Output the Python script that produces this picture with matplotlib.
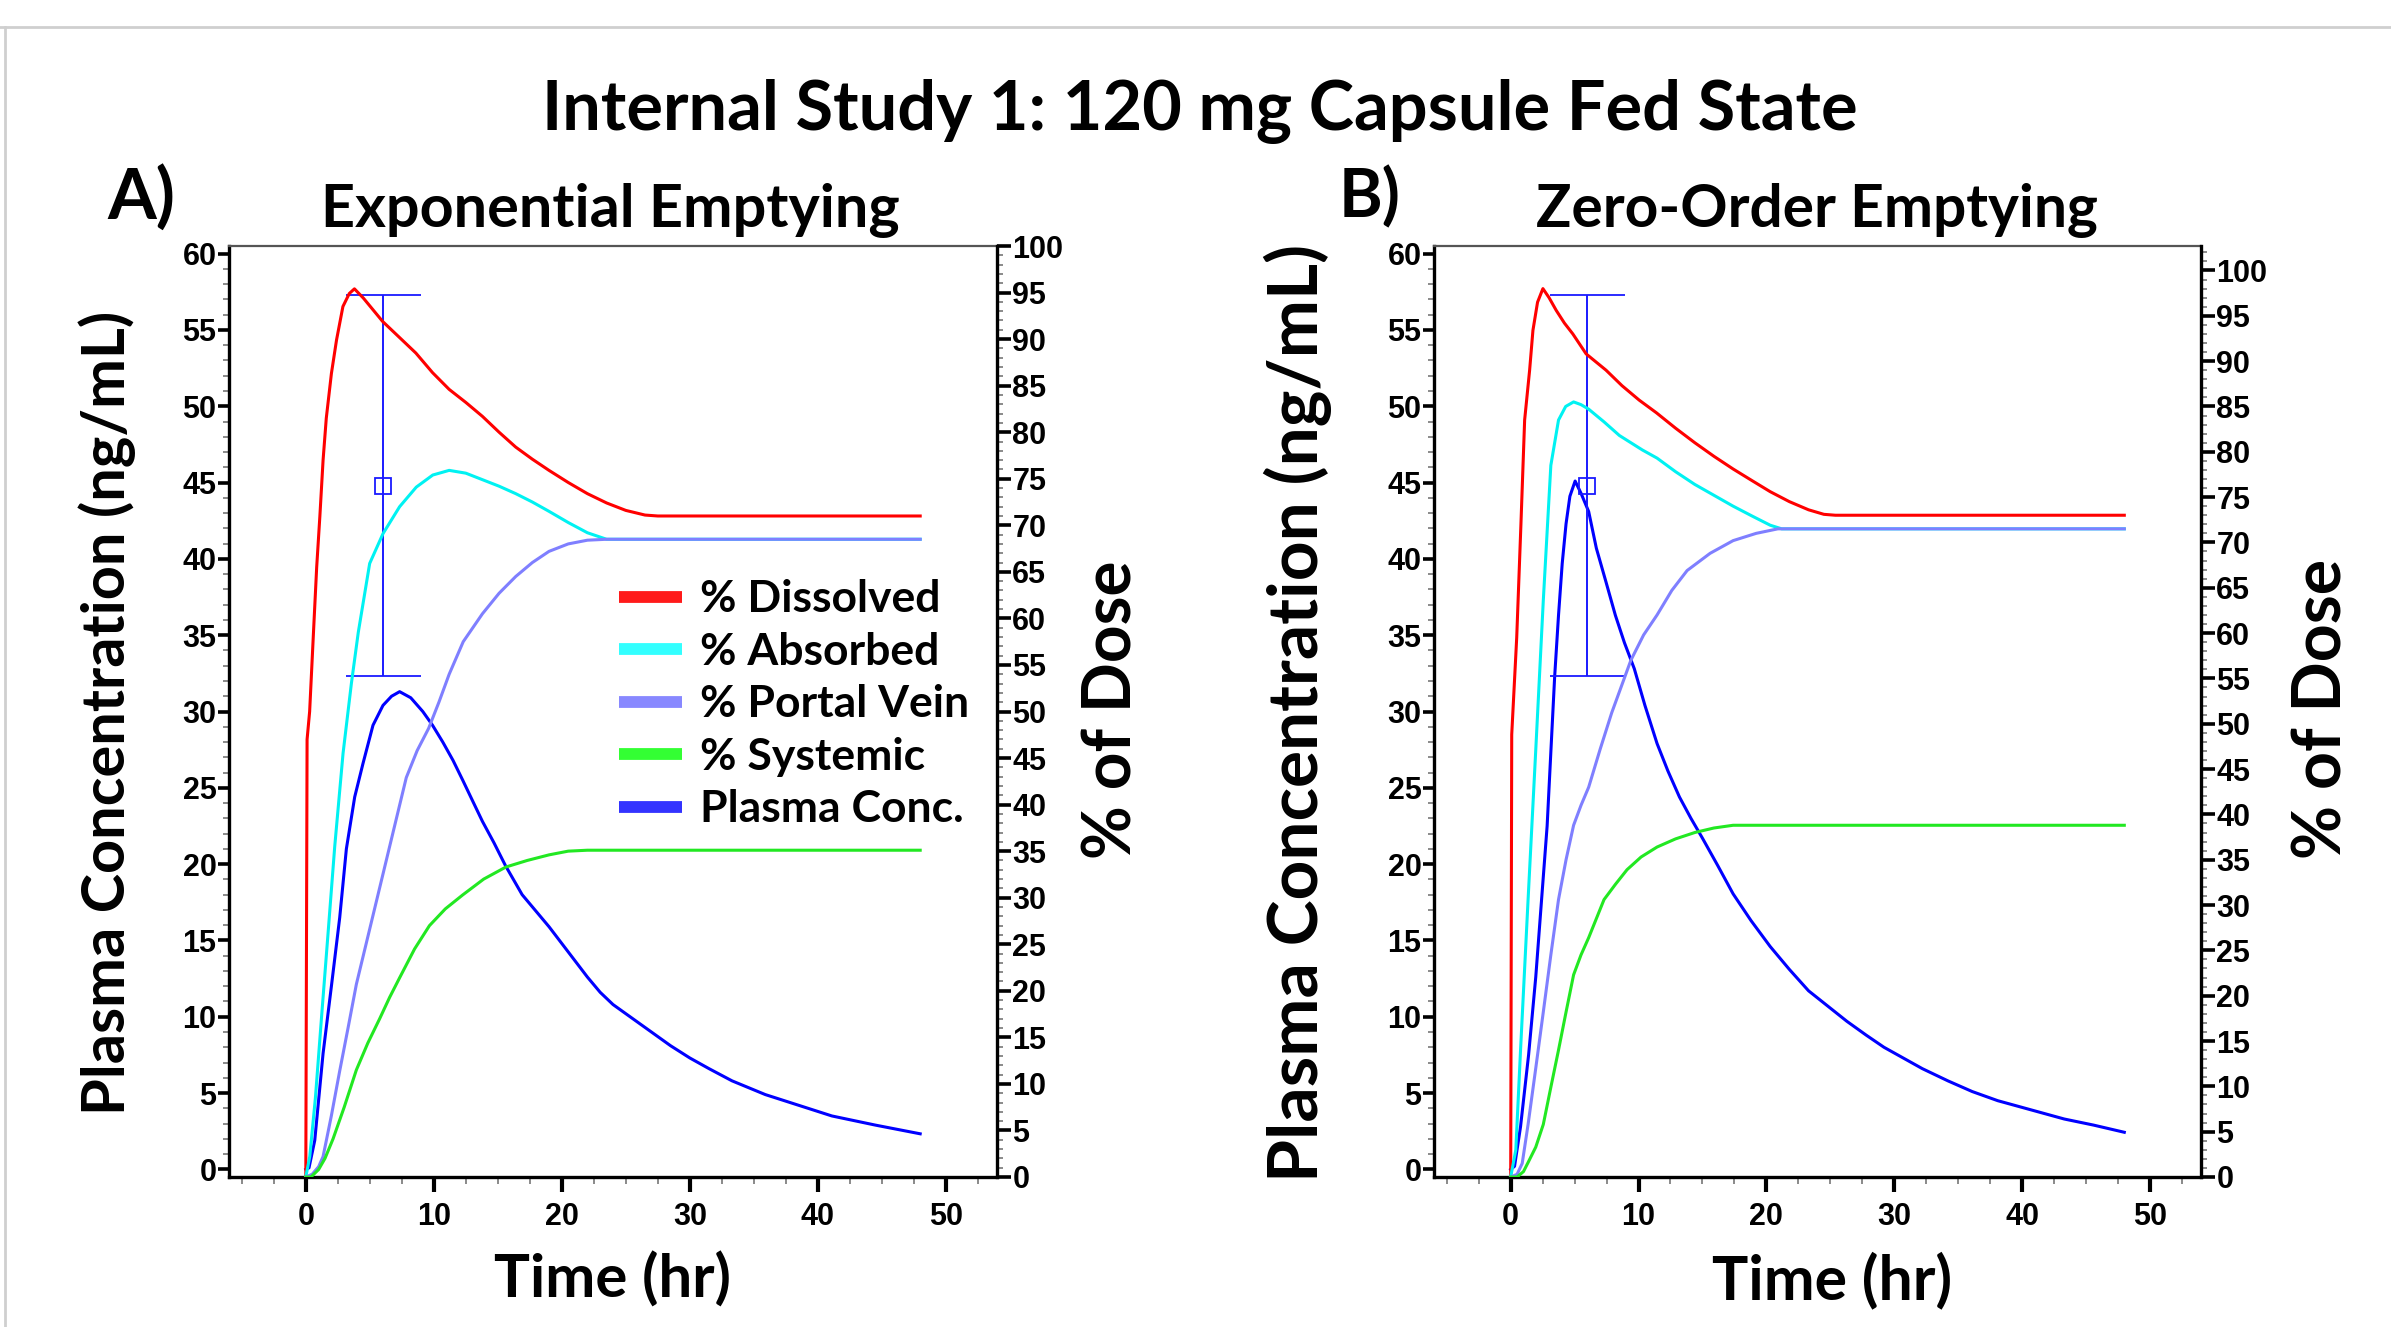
import matplotlib
matplotlib.use("Agg")
import matplotlib.pyplot as plt
from matplotlib.lines import Line2D
import numpy as np

# ---------------- data ----------------
# Panel A: Exponential Emptying
A_t_dis = [0, 0.1, 0.3, 0.6, 0.85, 1.1, 1.35, 1.6, 2.0, 2.4, 2.9, 3.4, 3.8, 4.5, 6.0, 7.3, 8.6, 9.9,
           11.2, 12.5, 13.8, 15.1, 16.4, 17.7, 19.0, 20.5, 22.0, 23.5, 25.0, 26.5, 27.5, 48]
A_dis = [0, 47, 50, 58.5, 65.5, 71, 77, 81.5, 86.3, 89.9, 93.5, 94.9, 95.4, 94.4, 91.9, 90.2, 88.5, 86.4,
         84.6, 83.2, 81.7, 80.0, 78.4, 77.1, 75.9, 74.6, 73.4, 72.4, 71.6, 71.1, 71.0, 71.0]

A_t_abs = [0, 0.31, 0.75, 1.22, 1.74, 2.26, 2.91, 3.56, 4.1, 4.99, 6.03, 7.33, 8.63, 9.92, 11.2, 12.5,
           13.8, 15.1, 16.4, 17.7, 19.0, 20.5, 22.0, 23.5, 48]
A_abs = [0, 2.2, 8.5, 17.0, 26.2, 35.5, 45.5, 53.0, 58.5, 65.9, 69.1, 72.0, 74.1, 75.4, 75.9, 75.6,
         74.9, 74.2, 73.4, 72.5, 71.5, 70.3, 69.2, 68.5, 68.5]

A_t_pv = [0, 0.5, 1.0, 1.35, 2.0, 2.65, 3.3, 3.95, 4.6, 5.25, 5.9, 6.55, 7.2, 7.85, 8.7, 9.6, 10.4,
          11.2, 12.3, 13.8, 15.1, 16.4, 17.7, 19.0, 20.5, 22.0, 23.5, 48]
A_pv = [0, 0.3, 1.1, 2.2, 6.6, 11.4, 16.0, 20.7, 24.4, 28.1, 31.8, 35.5, 39.2, 42.9, 45.8, 48.2, 51.0,
        54.0, 57.5, 60.5, 62.7, 64.5, 66.0, 67.2, 68.0, 68.4, 68.5, 68.5]

A_t_sys = [0, 0.4, 1.0, 1.5, 2.13, 3.0, 3.95, 4.85, 5.77, 6.55, 7.33, 8.5, 9.66, 10.9, 12.26, 13.9,
           15.64, 17.3, 19.0, 20.5, 22.0, 48]
A_sys = [0, 0, 0.8, 2.0, 4.1, 7.5, 11.5, 14.4, 17.0, 19.3, 21.4, 24.5, 27.0, 28.8, 30.3, 32.0,
         33.3, 34.0, 34.6, 35.0, 35.1, 35.1]

A_t_cp = [0, 0.25, 0.7, 1.35, 2.0, 2.65, 3.17, 3.82, 4.47, 5.25, 6.03, 6.7, 7.33, 8.2, 9.14, 9.9,
          10.7, 11.5, 12.26, 13.0, 13.8, 14.7, 15.6, 16.9, 18.0, 19.0, 20.0, 21.0, 22.0, 23.0, 24.0,
          25.5, 27.0, 28.5, 30.0, 31.5, 33.3, 35.9, 38.5, 41.1, 44.5, 48.0]
A_cp = [0, 0.1, 1.9, 7.6, 12.0, 16.5, 21.0, 24.4, 26.6, 29.1, 30.4, 31.0, 31.3, 30.9, 30.0, 29.1,
        28.0, 26.8, 25.5, 24.2, 22.8, 21.4, 19.9, 18.0, 16.9, 15.9, 14.8, 13.7, 12.6, 11.6, 10.8,
        9.9, 9.0, 8.1, 7.3, 6.6, 5.8, 4.9, 4.2, 3.5, 2.9, 2.33]

# Panel B: Zero-Order Emptying
B_t_dis = [0, 0.08, 0.47, 0.8, 1.09, 1.48, 1.74, 2.1, 2.52, 3.0, 3.56, 4.2, 4.86, 5.9, 7.46, 8.7,
           10.05, 11.4, 12.9, 14.4, 15.9, 17.4, 18.9, 20.3, 21.8, 23.3, 24.5, 25.4, 48]
B_dis = [0, 48.8, 59.5, 72.0, 83.5, 89.0, 93.4, 96.5, 98.0, 97.0, 95.6, 94.2, 93.0, 90.8, 89.0, 87.3,
         85.7, 84.3, 82.6, 81.0, 79.5, 78.1, 76.8, 75.6, 74.5, 73.6, 73.1, 73.0, 73.0]

B_t_abs = [0, 0.4, 0.77, 1.36, 1.96, 2.55, 3.14, 3.74, 4.3, 4.92, 5.5, 6.1, 7.3, 8.5, 9.4, 10.3,
           11.45, 12.9, 14.4, 15.9, 17.4, 18.9, 20.3, 21.2, 48]
B_abs = [0, 3, 14, 30.6, 47.1, 63.6, 78.5, 83.5, 85.0, 85.5, 85.2, 84.7, 83.3, 81.8, 81.0, 80.2,
         79.3, 77.8, 76.4, 75.2, 74.0, 72.9, 71.9, 71.5, 71.5]

B_t_pv = [0, 0.5, 0.9, 1.36, 1.96, 2.55, 3.14, 3.74, 4.33, 4.92, 5.5, 6.1, 7.0, 7.9, 9.4, 10.4,
          11.45, 12.6, 13.8, 15.6, 17.4, 19.2, 20.9, 48]
B_pv = [0, 0.3, 1.5, 5.8, 12.0, 18.2, 24.5, 30.6, 35.0, 38.8, 41.0, 43.0, 47.2, 51.2, 57.0, 59.8,
        62.0, 64.7, 66.9, 68.8, 70.2, 71.0, 71.5, 71.5]

B_t_sys = [0, 0.5, 1.0, 1.36, 1.96, 2.55, 3.14, 3.74, 4.33, 4.92, 5.5, 6.1, 7.3, 8.2, 9.1, 10.2,
           11.45, 12.9, 14.4, 15.9, 17.4, 48]
B_sys = [0, 0, 0.6, 1.6, 3.3, 5.8, 9.9, 14.0, 18.2, 22.3, 24.5, 26.4, 30.6, 32.3, 33.9, 35.3,
         36.4, 37.3, 38.0, 38.5, 38.8, 38.8]

B_t_cp = [0, 0.3, 0.77, 1.4, 1.96, 2.4, 2.85, 3.15, 3.44, 3.74, 4.03, 4.33, 4.63, 5.04, 5.5, 6.1,
          6.7, 7.45, 8.19, 8.9, 9.67, 10.5, 11.45, 12.3, 13.2, 14.1, 15.0, 16.2, 17.4, 18.8, 20.3,
          21.8, 23.3, 24.8, 26.3, 27.8, 29.2, 30.7, 32.2, 34.2, 36.1, 38.1, 40.7, 43.3, 45.6, 48.0]
B_cp = [0, 0.2, 2.8, 7.5, 12.6, 17.5, 22.5, 27.5, 32.3, 36.3, 39.7, 42.3, 44.1, 45.1, 44.3, 43.1,
        40.7, 38.5, 36.3, 34.5, 32.8, 30.4, 27.9, 26.1, 24.4, 23.0, 21.7, 19.9, 18.05, 16.3, 14.6,
        13.1, 11.7, 10.7, 9.7, 8.8, 8.0, 7.3, 6.6, 5.8, 5.1, 4.5, 3.9, 3.3, 2.9, 2.43]

# observed data point (mean +/- error), plasma concentration
obs_t = [6.0]
obs_c = [44.8]
obs_err = [12.5]

series_labels = ["% Dissolved", "% Absorbed", "% Portal Vein", "% Systemic", "Plasma Conc."]
series_colors = ["#FF0000", "#00F2F2", "#7F7FFF", "#22E822", "#0000FF"]
legend_colors = ["#FF1A1A", "#33FFFF", "#8888FF", "#33FF33", "#3333FF"]

title = "Internal Study 1: 120 mg Capsule Fed State"
panel_titles = ["Exponential Emptying", "Zero-Order Emptying"]
panel_letters = ["A)", "B)"]
ylabel_left = "Plasma Concentration (ng/mL)"
ylabel_right = "% of Dose"
xlabel = "Time (hr)"

# ---------------- figure ----------------
W, H = 2391, 1327
plt.rcParams["font.family"] = ["Liberation Sans", "DejaVu Sans"]
plt.rcParams["font.weight"] = "bold"
fig = plt.figure(figsize=(W / 100, H / 100), dpi=100)
LF = ["Lato", "DejaVu Sans"]


def fxp(px):
    return px / W


def fyp(py):
    return 1 - py / H


axA = fig.add_axes([fxp(229), fyp(1177), (997 - 229) / W, (1177 - 246) / H])
axB = fig.add_axes([fxp(1434), fyp(1177), (2201 - 1434) / W, (1177 - 246) / H])

TL = 22


def style(ax, ax2, ymax_right):
    ax.set_xlim(-6, 54)
    ax.set_ylim(-0.5, 60.5)
    ax2.set_ylim(0, ymax_right)
    ax.set_xticks(range(0, 51, 10))
    ax.set_xticks(np.arange(-5, 54, 2.5), minor=True)
    ax.set_yticks(range(0, 61, 5))
    ax.set_yticks(range(0, 61, 1), minor=True)
    ax2.set_yticks(range(0, 101, 5))
    ax2.set_yticks(range(0, int(ymax_right) + 1, 1), minor=True)
    ax.tick_params(axis="y", which="major", direction="out", length=8, width=2.6, pad=1, labelsize=TL)
    ax.tick_params(axis="y", which="minor", direction="out", length=4, width=1.2, color="#777777")
    ax.tick_params(axis="x", which="major", direction="out", length=11, width=3, pad=7, labelsize=TL)
    ax.tick_params(axis="x", which="minor", direction="out", length=5, width=1.2, color="#777777")
    ax2.tick_params(axis="y", which="major", direction="out", length=10, width=2.6, pad=1, labelsize=TL)
    ax2.tick_params(axis="y", which="minor", direction="out", length=4, width=1.2, color="#777777")
    for s in ["left", "bottom"]:
        ax.spines[s].set_linewidth(2.4)
        ax.spines[s].set_color("black")
    ax.spines["top"].set_linewidth(1.6)
    ax.spines["top"].set_color("#555555")
    ax.spines["right"].set_visible(False)
    for s in ["left", "bottom", "top"]:
        ax2.spines[s].set_visible(False)
    ax2.spines["right"].set_linewidth(2.4)
    ax2.spines["right"].set_color("black")
    for lab in ax.get_xticklabels() + ax.get_yticklabels() + ax2.get_yticklabels():
        lab.set_fontweight("bold")


panels = [
    (axA, [(A_t_dis, A_dis), (A_t_abs, A_abs), (A_t_pv, A_pv), (A_t_sys, A_sys)], (A_t_cp, A_cp), 100.0),
    (axB, [(B_t_dis, B_dis), (B_t_abs, B_abs), (B_t_pv, B_pv), (B_t_sys, B_sys)], (B_t_cp, B_cp), 102.7),
]

twins = []
for ax, pct, cp, ymax in panels:
    ax2 = ax.twinx()
    twins.append(ax2)
    ax.plot(cp[0], cp[1], color=series_colors[4], lw=2.2, solid_joinstyle="round")
    ax.errorbar(obs_t, obs_c, yerr=obs_err, fmt="s", ms=11, mfc="none", mec="#1A1AFF", mew=1.3,
                ecolor="#1A1AFF", elinewidth=1.4, capsize=27, capthick=1.4)
    for (t, v), c in zip(pct, series_colors[:4]):
        ax2.plot(t, v, color=c, lw=2.2, solid_joinstyle="round")
    style(ax, ax2, ymax)

# legend in panel A
handles = [Line2D([], [], color=c, lw=8.5, solid_capstyle="butt") for c in legend_colors]
leg = twins[0].legend(handles, series_labels, loc="upper left", bbox_to_anchor=(0.508, 0.642),
                      frameon=False, borderpad=0, borderaxespad=0, handlelength=1.42,
                      handletextpad=0.40, labelspacing=0.28,
                      prop={"family": LF, "weight": "bold", "size": 32})

texts = []


def add_text(s, x, y, target, rot=False, va="center"):
    t = fig.text(fxp(x), fyp(y), s, ha="center", va=va, rotation=90 if rot else 0,
                 fontfamily=LF, fontweight="bold", fontsize=40)
    texts.append((t, target, rot))
    return t


add_text(title, 1200, 112, 1315)
add_text(panel_titles[0], 610, 210, 578)
add_text(panel_titles[1], 1817, 210, 562)
add_text(panel_letters[0], 141, 197, 68)
add_text(panel_letters[1], 1370, 198, 62)
add_text(ylabel_left, 107, 713, 804, rot=True)
add_text(ylabel_left, 1298, 713, 938, rot=True)
add_text(ylabel_right, 1113, 710, 298, rot=True)
add_text(ylabel_right, 2322, 709, 300, rot=True)
add_text(xlabel, 612, 1280, 237)
add_text(xlabel, 1832, 1280, 240)

fig.canvas.draw()
r = fig.canvas.get_renderer()
for t, target, rot in texts:
    bb = t.get_window_extent(r)
    cur = bb.height if rot else bb.width
    t.set_fontsize(t.get_fontsize() * target / cur)

# slide frame lines
fig.add_artist(Line2D([0, 1], [fyp(27), fyp(27)], transform=fig.transFigure, color="#CFCFCF", lw=2))
fig.add_artist(Line2D([fxp(5), fxp(5)], [0, fyp(27)], transform=fig.transFigure, color="#CFCFCF", lw=2))

fig.savefig("out.png", dpi=100, facecolor="white")
